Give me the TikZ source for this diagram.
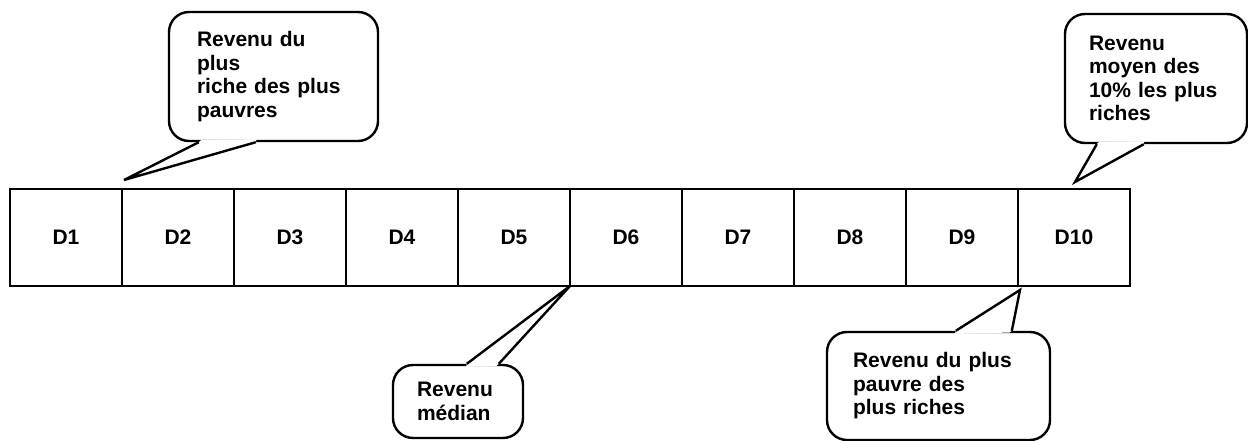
\documentclass[tikz,border=0pt]{standalone}
\usepackage{fontspec}
\setmainfont{Liberation Sans}
\usetikzlibrary{calc}
\newcommand{\bubbletail}[4]{%
  \fill[white] (#1) -- (#3) -- (#2) -- ($(#2)!3pt!(#4)$) -- ($(#1)!3pt!(#4)$) -- cycle;
  \draw (#1) -- (#3) -- (#2);}

\begin{document}
\begin{tikzpicture}[x=1pt,y=-1pt,line width=2.4pt,
	decile/.style={draw,minimum width=112pt,minimum height=97pt,inner sep=0pt,outer sep=0pt},
	bubble/.style={draw,fill=white,rounded corners=20pt,align=left,inner sep=0pt},
	font=\fontsize{21}{23.5}\selectfont\bfseries]
    \useasboundingbox (0,0) rectangle (1248,441);
    \foreach \i in {1,...,10}
        \node[decile] (d\i) at ({112*\i-46},237.5) {D\i};
    \node[bubble,minimum width=209pt,minimum height=129pt,text width=153pt] (maxpauvres)
        at (273.5,76.5) {Revenu du\\plus\\riche des plus\\pauvres};
    \node[bubble,minimum width=182pt,minimum height=129pt,text width=134pt] (moyriches)
        at (1156,78.5) {Revenu\\moyen des\\10\% les plus\\riches};
    \node[bubble,minimum width=130pt,minimum height=73pt,text width=82pt] (mediane)
        at (458,401.5) {Revenu\\médian};
    \node[bubble,minimum width=223pt,minimum height=108pt,text width=171pt] (minriches)
        at (938.5,386) {Revenu du plus\\pauvre des\\plus riches};
    \coordinate (mp-a) at ($(maxpauvres.south west)+(31,0)$);
    \coordinate (mp-b) at ($(maxpauvres.south west)+(88,0)$);
    \coordinate (mp-t) at ($(d2.north west)+(2,-9)$);
    \bubbletail{mp-a}{mp-b}{mp-t}{maxpauvres.center}
    \coordinate (mr-a) at ($(moyriches.south west)+(33,0)$);
    \coordinate (mr-b) at ($(moyriches.south west)+(80,0)$);
    \coordinate (mr-t) at ($(d10.north)+(1,-7)$);
    \bubbletail{mr-a}{mr-b}{mr-t}{moyriches.center}
    \coordinate (me-a) at ($(mediane.north west)+(75,0)$);
    \coordinate (me-b) at ($(mediane.north west)+(107,0)$);
    \bubbletail{me-a}{me-b}{d6.south west}{mediane.center}
    \coordinate (mi-a) at ($(minriches.north west)+(130,0)$);
    \coordinate (mi-b) at ($(minriches.north west)+(186,0)$);
    \coordinate (mi-t) at ($(d10.south west)+(2,4)$);
    \bubbletail{mi-a}{mi-b}{mi-t}{minriches.center}
\end{tikzpicture}
\end{document}
